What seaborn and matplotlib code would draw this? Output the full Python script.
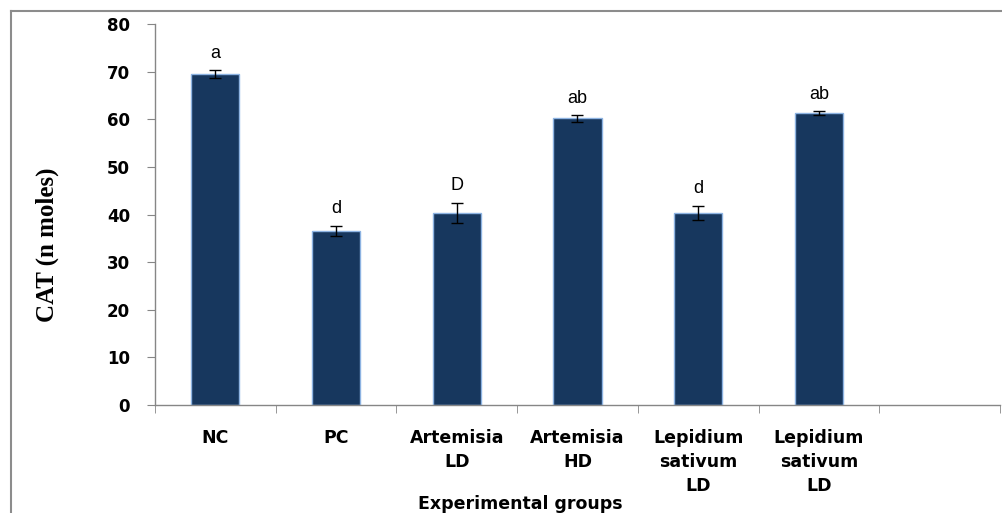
import numpy as np
import pandas as pd
import matplotlib
matplotlib.use("Agg")
import matplotlib.pyplot as plt
from matplotlib.lines import Line2D
import seaborn as sns

# values
group_labels = ["NC", "PC", "Artemisia\nLD", "Artemisia\nHD",
                "Lepidium\nsativum\nLD", "Lepidium\nsativum\nLD"]
cat_mean = [69.5, 36.6, 40.4, 60.2, 40.4, 61.3]
cat_err = [0.8, 1.1, 2.1, 0.7, 1.5, 0.4]
sig_letters = ["a", "d", "D", "ab", "d", "ab"]
y_ticks = [0, 10, 20, 30, 40, 50, 60, 70, 80]

plt.rcParams['font.family'] = ['DejaVu Sans']
grey = "#868686"

fig = plt.figure(figsize=(10.03, 5.13), dpi=100)
ax = fig.add_axes([0.1545, 0.2105, 0.8425, 0.7425])

# unique keys so the two "Lepidium sativum LD" bars stay separate
df = pd.DataFrame({"slot": [f"g{i}" for i in range(len(cat_mean))], "CAT": cat_mean})
sns.barplot(data=df, x="slot", y="CAT", color="#17375E", saturation=1,
            width=0.4, edgecolor="#8DB3E2", linewidth=1, ax=ax)
ax.errorbar(np.arange(len(cat_mean)), cat_mean, yerr=cat_err, fmt="none",
            ecolor="black", elinewidth=1, capsize=4.3, capthick=1)

for i, (m, e, lab) in enumerate(zip(cat_mean, cat_err, sig_letters)):
    ax.annotate(lab, (i, m + e), xytext=(0, 9), textcoords="offset points",
                ha="center", va="baseline", fontsize=13,
                family=["Liberation Sans", "DejaVu Sans"])

ax.set_xlim(-0.5, 6.5)
ax.set_ylim(0, 80)
ax.set_yticks(y_ticks)
ax.set_yticklabels([str(t) for t in y_ticks], fontsize=12, fontweight="bold")
ax.set_xticks(np.arange(len(group_labels)))
ax.set_xticklabels(group_labels, fontsize=12.5, fontweight="bold", linespacing=1.45)
ax.set_xticks(np.arange(-0.5, 7, 1), minor=True)
ax.tick_params(axis="x", which="major", length=0, pad=17)
ax.tick_params(axis="x", which="minor", length=6, color=grey, direction="out")
ax.tick_params(axis="y", which="major", length=6, color=grey, direction="out", pad=12)
ax.set_xlabel("")
ax.set_ylabel("")

sns.despine(ax=ax)
for side in ["left", "bottom"]:
    ax.spines[side].set_color(grey)
    ax.spines[side].set_linewidth(1)

fig.text(47 / 1003, 1 - 245 / 513, "CAT (n moles)", rotation=90, ha="center", va="center",
         fontsize=18, fontweight="bold", family=["Liberation Serif", "DejaVu Serif"])
fig.text(520 / 1003, 1 - 504 / 513, "Experimental groups", ha="center", va="center",
         fontsize=12.5, fontweight="bold")

# outer frame (left and top edges visible in the reference)
fig.add_artist(Line2D([11 / 1003, 11 / 1003], [0, 1 - 11 / 513], transform=fig.transFigure,
                      color="#8c8c8c", lw=1.5))
fig.add_artist(Line2D([11 / 1003, 1], [1 - 11 / 513, 1 - 11 / 513], transform=fig.transFigure,
                      color="#8c8c8c", lw=1.5))

fig.savefig("out.png", dpi=100)
